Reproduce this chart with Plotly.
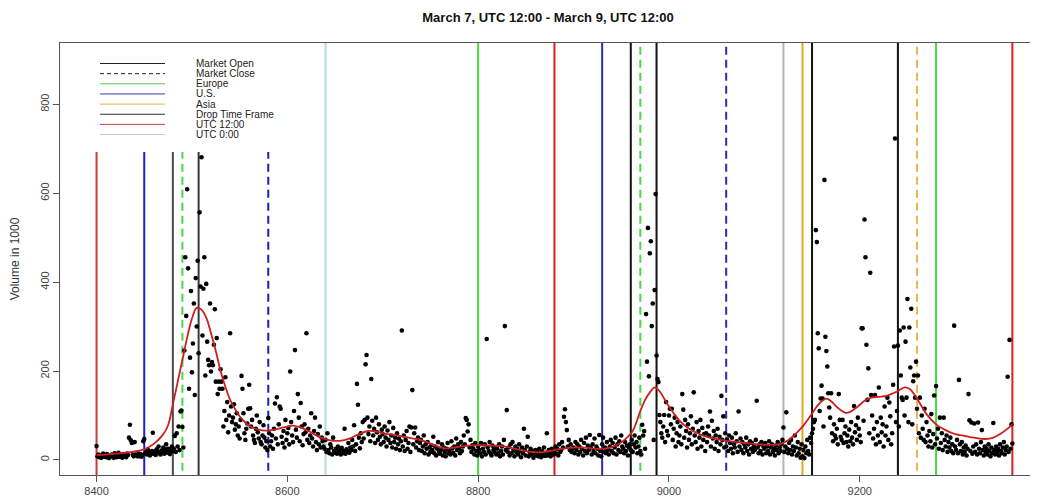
import plotly.graph_objects as go

# ---------------- data ----------------
start_x = 8400
volume = [
    31, 8, 12, 6, 10, 5, 9, 14, 7, 11, 6, 13, 8, 4, 10, 7, 12, 9, 5, 15,
    9, 6, 11, 16, 7, 12, 8, 5, 13, 10, 9, 6, 14, 11, 50, 79, 44, 38, 12, 8,
    40, 12, 10, 8, 14, 9, 13, 7, 11, 42, 47, 15, 18, 12, 22, 16, 10, 13, 20, 61,
    14, 19, 11, 24, 17, 30, 15, 12, 21, 18, 28, 14, 23, 35, 16, 25, 19, 13, 22, 30,
    20, 25, 54, 18, 60, 30, 75, 22, 109, 111, 74, 28, 246, 456, 324, 609, 431, 160, 230, 380,
    197, 262, 352, 146, 409, 300, 448, 240, 557, 390, 681, 280, 385, 456, 190, 396, 266, 225, 213, 352,
    199, 220, 213, 259, 339, 176, 274, 148, 176, 160, 204, 176, 160, 75, 110, 186, 90, 130, 62, 100,
    285, 120, 85, 95, 125, 68, 80, 105, 55, 75, 48, 90, 189, 160, 105, 60, 45, 70, 82, 115,
    169, 116, 75, 90, 55, 45, 38, 70, 100, 62, 48, 85, 40, 35, 55, 78, 50, 28, 42, 22,
    94, 60, 30, 42, 55, 25, 70, 127, 48, 141, 35, 80, 120, 115, 52, 38, 65, 28, 90, 45,
    60, 72, 35, 199, 85, 55, 40, 110, 247, 68, 50, 148, 95, 42, 128, 75, 33, 58, 80, 62,
    285, 45, 70, 38, 55, 105, 48, 30, 65, 95, 40, 22, 58, 35, 75, 28, 50, 42, 30, 25,
    45, 18, 60, 22, 15, 35, 28, 12, 50, 20, 16, 25, 14, 30, 18, 22, 12, 27, 15, 20,
    70, 14, 24, 19, 38, 16, 28, 22, 45, 30, 78, 20, 35, 171, 124, 50, 26, 60, 40, 85,
    48, 90, 215, 236, 95, 58, 75, 42, 182, 88, 55, 70, 38, 95, 62, 45, 80, 52, 35, 68,
    58, 40, 75, 50, 30, 66, 45, 85, 38, 55, 28, 72, 40, 50, 25, 60, 35, 48, 22, 42,
    291, 30, 55, 20, 45, 65, 25, 38, 75, 18, 73, 157, 35, 60, 73, 28, 42, 50, 22, 38,
    45, 20, 30, 55, 15, 35, 25, 40, 12, 28, 18, 33, 22, 52, 15, 30, 10, 25, 40, 18,
    14, 22, 35, 10, 28, 18, 8, 25, 38, 15, 20, 12, 42, 26, 16, 30, 10, 48, 22, 35,
    25, 15, 40, 20, 30, 55, 35, 94, 90, 64, 80, 28, 45, 18, 33, 25, 12, 38, 20, 10,
    30, 22, 15, 38, 8, 25, 18, 35, 12, 272, 28, 20, 40, 15, 10, 32, 22, 18, 28, 12,
    25, 15, 35, 8, 20, 30, 12, 45, 301, 22, 112, 18, 28, 10, 35, 15, 40, 22, 8, 30,
    18, 25, 12, 35, 20, 6, 28, 15, 70, 22, 10, 30, 52, 8, 18, 25, 12, 20, 5, 15,
    22, 10, 18, 8, 25, 14, 6, 20, 12, 28, 9, 16, 60, 10, 22, 14, 8, 25, 18, 12,
    20, 30, 14, 25, 10, 35, 18, 22, 40, 28, 97, 114, 85, 67, 30, 45, 22, 35, 18, 25,
    28, 15, 40, 22, 35, 12, 30, 18, 45, 25, 10, 38, 20, 50, 15, 32, 22, 56, 28, 12,
    35, 20, 48, 15, 30, 25, 10, 56, 20, 8, 35, 50, 18, 28, 15, 40, 22, 12, 30, 45,
    20, 38, 15, 28, 50, 12, 35, 22, 42, 18, 55, 30, 25, 15, 40, 20, 32, 10, 28, 35,
    22, 45, 18, 35, 55, 28, 40, 15, 30, 50, 20, 12, 79, 55, 65, 25, 328, 221, 522, 188,
    465, 492, 301, 352, 45, 382, 598, 235, 182, 175, 101, 85, 60, 50, 75, 101, 40, 130, 65, 55,
    100, 115, 80, 115, 45, 70, 95, 30, 60, 85, 40, 55, 75, 35, 148, 113, 50, 90, 65, 28,
    80, 45, 60, 98, 35, 70, 152, 55, 40, 85, 25, 65, 50, 90, 30, 72, 45, 58, 20, 60,
    40, 75, 55, 109, 30, 88, 48, 65, 25, 55, 40, 70, 20, 52, 35, 144, 45, 98, 28, 60,
    30, 45, 20, 55, 38, 25, 50, 15, 35, 28, 60, 42, 18, 109, 30, 48, 22, 40, 15, 35,
    28, 50, 20, 35, 12, 42, 25, 38, 18, 30, 22, 45, 133, 28, 15, 35, 20, 40, 12, 30,
    25, 38, 15, 30, 20, 42, 12, 28, 35, 18, 25, 10, 32, 22, 40, 15, 28, 20, 35, 45,
    73, 18, 30, 107, 25, 15, 38, 22, 45, 12, 30, 20, 55, 28, 10, 40, 15, 25, 5, 35,
    8, 22, 4, 30, 15, 45, 20, 12, 50, 38, 60, 70, 85, 90, 517, 490, 285, 251, 110, 138,
    167, 138, 75, 630, 277, 245, 210, 150, 118, 95, 150, 60, 42, 80, 55, 48, 70, 35, 148, 90,
    52, 45, 90, 38, 60, 75, 40, 55, 30, 68, 42, 85, 50, 35, 121, 62, 78, 45, 95, 70,
    55, 40, 296, 296, 88, 541, 456, 259, 135, 206, 60, 421, 146, 100, 48, 70, 146, 35, 85, 55,
    163, 40, 95, 62, 80, 30, 120, 55, 75, 140, 45, 129, 98, 35, 60, 169, 255, 723, 85, 110,
    257, 75, 291, 190, 140, 135, 298, 100, 266, 140, 362, 85, 298, 208, 340, 80, 177, 190, 140, 221,
    115, 190, 60, 140, 50, 100, 70, 45, 115, 40, 85, 55, 30, 65, 42, 103, 28, 58, 145, 35,
    166, 48, 70, 25, 95, 38, 60, 22, 95, 45, 30, 55, 18, 40, 28, 50, 20, 35, 15, 302,
    30, 22, 45, 15, 180, 35, 20, 40, 12, 28, 18, 32, 10, 25, 148, 89, 20, 84, 14, 30,
    82, 18, 35, 12, 84, 25, 15, 40, 67, 22, 10, 30, 18, 25, 12, 35, 20, 8, 28, 15,
    83, 22, 12, 30, 18, 25, 10, 35, 20, 15, 28, 40, 12, 22, 30, 187, 18, 270, 25, 80,
    37,
]
time_idx = [start_x + i for i in range(len(volume))]

smooth_x = [8400, 8410, 8420, 8430, 8440, 8450, 8460, 8470, 8475, 8480, 8485, 8490, 8495,
            8500, 8505, 8510, 8515, 8520, 8525, 8530, 8535, 8540, 8545, 8550, 8555, 8560,
            8570, 8580, 8590, 8600, 8606, 8615, 8625, 8635, 8645, 8655, 8665, 8675, 8685,
            8695, 8705, 8715, 8725, 8735, 8745, 8755, 8765, 8775, 8785, 8800, 8815, 8825,
            8835, 8845, 8855, 8865, 8875, 8885, 8895, 8905, 8915, 8925, 8935, 8945, 8955,
            8962, 8970, 8975, 8980, 8985, 8990, 8995, 9000, 9005, 9012, 9020, 9030, 9040,
            9050, 9060, 9070, 9080, 9090, 9100, 9110, 9117, 9125, 9132, 9140, 9148, 9155,
            9160, 9165, 9170, 9175, 9180, 9185, 9190, 9198, 9205, 9212, 9220, 9228, 9235,
            9240, 9247, 9252, 9258, 9265, 9270, 9280, 9290, 9300, 9310, 9320, 9332, 9340,
            9347, 9353, 9360]
smooth_y = [11, 12, 14, 16, 19, 24, 36, 58, 78, 125, 175, 225, 275,
            318, 342, 338, 320, 285, 245, 200, 165, 135, 115, 98, 86, 77,
            68, 66, 70, 75, 77, 72, 62, 50, 44, 43, 48, 58, 65,
            63, 58, 55, 51, 47, 41, 32, 26, 28, 31, 33, 32, 31,
            27, 22, 18, 17, 20, 24, 27, 28, 27, 25, 26, 33, 48,
            65, 110, 135, 152, 163, 155, 138, 120, 105, 86, 72, 60, 52,
            47, 43, 41, 38, 36, 34, 34, 36, 44, 57, 75, 98, 120,
            132, 138, 132, 121, 112, 106, 108, 120, 133, 140, 142, 144, 150,
            155, 163, 160, 145, 120, 103, 80, 67, 58, 54, 50, 47, 50,
            58, 67, 80]

event_x = [8400, 8450, 8480, 8490, 8507, 8580, 8640, 8800, 8880, 8930, 8960,
           8970, 8987, 9060, 9120, 9140, 9150, 9240, 9260, 9280, 9360]
event_top = [693, 693, 693, 693, 693, 693, 2000, 2000, 2000, 2000, 2000,
             2000, 2000, 2000, 2000, 2000, 2000, 2000, 2000, 2000, 2000]

legend_labels = ["Market Open", "Market Close", "Europe", "U.S.", "Asia",
                 "Drop Time Frame", "UTC 12:00", "UTC 0:00"]

# ---------------- styles ----------------
event_color = ["#c83a3a", "#1e1ec8", "#4a4a4a", "#48d848", "#3a3a3a", "#1e1eb4", "#b4dae2",
               "#48d848", "#d42020", "#2c2cb0", "#111111", "#48d848", "#111111", "#2c2cb0",
               "#b4b4b4", "#e0a820", "#111111", "#111111", "#e8b84a", "#48d848", "#d42020"]
event_dash = ["solid", "solid", "solid", "8px,5px", "solid", "8px,5px", "solid",
              "solid", "solid", "solid", "solid", "8px,5px", "solid", "8px,5px",
              "solid", "solid", "solid", "solid", "8px,5px", "solid", "solid"]
legend_color = ["#222222", "#222222", "#55cc55", "#3a3aa8", "#e0b444", "#333333", "#c84040", "#c8c8c8"]
legend_dash = ["solid", "4px,3px", "solid", "solid", "solid", "solid", "solid", "solid"]

# page is rendered with an 8px body offset; figure sized/margined to compensate
OFF = 8
FIG_W, FIG_H = 1038 - OFF, 499 - OFF
PLOT_L, PLOT_R, PLOT_T, PLOT_B = 60, 1037, 43, 475   # target page pixels

fig = go.Figure()

fig.add_trace(go.Scatter(
    x=time_idx, y=volume, mode="markers",
    marker=dict(color="black", size=4.6, line=dict(width=0)),
    showlegend=False, hoverinfo="x+y"))

fig.add_trace(go.Scatter(
    x=smooth_x, y=smooth_y, mode="lines", line_shape="spline",
    line=dict(color="#cc1f1f", width=1.8),
    showlegend=False))

shapes = []
for xv, top, col, dsh in zip(event_x, event_top, event_color, event_dash):
    shapes.append(dict(type="line", xref="x", yref="y", x0=xv, x1=xv, y0=-200, y1=top,
                       line=dict(color=col, width=2, dash=dsh), layer="below"))

# manual legend (no box), top-left inside plot
plot_w = PLOT_R - PLOT_L
plot_h = PLOT_B - PLOT_T
annotations = []
for i, (lab, col, dsh) in enumerate(zip(legend_labels, legend_color, legend_dash)):
    py = 63.5 + i * 10.15
    yp = (PLOT_B - py) / plot_h
    shapes.append(dict(type="line", xref="paper", yref="paper",
                       x0=(100 - PLOT_L) / plot_w, x1=(165 - PLOT_L) / plot_w, y0=yp, y1=yp,
                       line=dict(color=col, width=1, dash=dsh)))
    annotations.append(dict(xref="paper", yref="paper", x=(194 - PLOT_L) / plot_w, y=yp,
                            text=lab, showarrow=False, xanchor="left", yanchor="middle",
                            font=dict(family="Liberation Sans, Arial", size=10, color="#222")))

fig.update_layout(
    width=FIG_W, height=FIG_H,
    margin=dict(l=PLOT_L - OFF, r=FIG_W - (PLOT_R - OFF), t=PLOT_T - OFF,
                b=FIG_H - (PLOT_B - OFF), autoexpand=False),
    paper_bgcolor="white", plot_bgcolor="white",
    title=dict(text="<b>March 7, UTC 12:00 - March 9, UTC 12:00</b>",
               x=(548 - OFF) / FIG_W, xanchor="center", y=1 - (17 - OFF) / FIG_H, yanchor="middle",
               font=dict(family="Liberation Sans, Arial", size=13, color="#111")),
    font=dict(family="Liberation Sans, Arial", size=11, color="#444"),
    shapes=shapes, annotations=annotations,
    showlegend=False,
)
fig.update_xaxes(range=[8361.7, 9385.8], tickvals=[8400, 8600, 8800, 9000, 9200],
                 showgrid=False, zeroline=False, showline=True, mirror=True,
                 linecolor="#555", linewidth=1, ticks="outside", ticklen=6,
                 tickcolor="#555", tickfont=dict(size=11, color="#444"))
fig.update_yaxes(range=[-34, 938], tickvals=[0, 200, 400, 600, 800],
                 showgrid=False, zeroline=False, showline=True, mirror=True,
                 linecolor="#555", linewidth=1, ticks="outside", ticklen=6,
                 tickcolor="#555", tickangle=-90, tickfont=dict(size=11, color="#444"),
                 title=dict(text="Volume in 1000", font=dict(size=12, color="#333"), standoff=16))

fig.write_html("out.html")
